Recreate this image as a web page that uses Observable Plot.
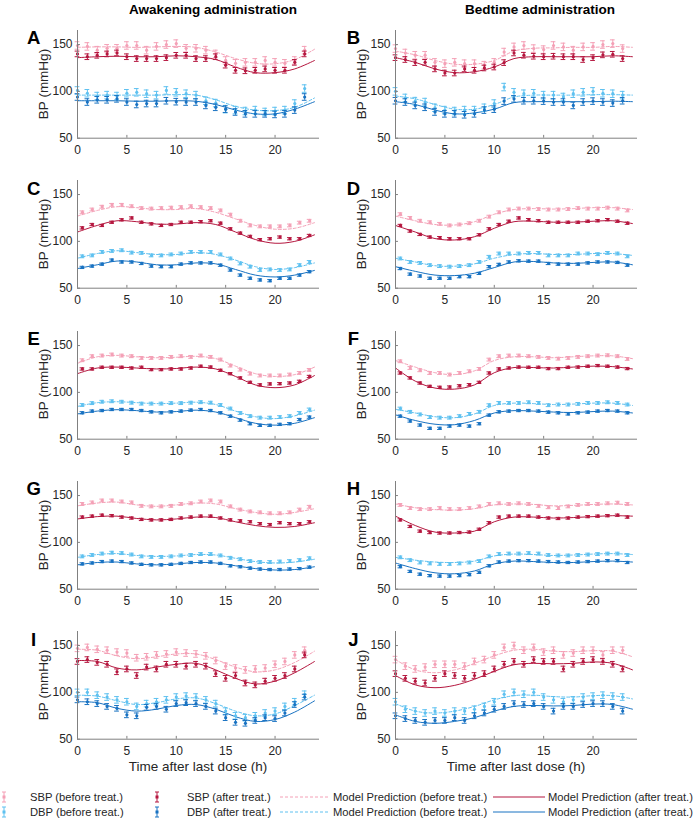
<!DOCTYPE html>
<html><head><meta charset="utf-8">
<script src="https://cdn.jsdelivr.net/npm/d3@7"></script>
<script src="https://cdn.jsdelivr.net/npm/@observablehq/plot@0.6"></script>
<style>
body{margin:0;background:#fff;font-family:"Liberation Sans",Arial,sans-serif;}
#root{position:relative;width:696px;height:818px;overflow:hidden;background:#fff;}
.abs{position:absolute;white-space:nowrap;color:#262626;line-height:1;}
svg{overflow:visible}
</style></head><body><div id="root"></div>
<script>
// ---------- data ----------
const panelLetters = ["A","B","C","D","E","F","G","H","I","J"];
const columnTitles = ["Awakening administration", "Bedtime administration"];
const xTicks = [0, 5, 10, 15, 20];
const yTicks = [50, 100, 150];
const hoursInt  = [0,1,2,3,4,5,6,7,8,9,10,11,12,13,14,15,16,17,18,19,20,21,22,23];
const hoursHalf = [0.5,1.5,2.5,3.5,4.5,5.5,6.5,7.5,8.5,9.5,10.5,11.5,12.5,13.5,14.5,15.5,16.5,17.5,18.5,19.5,20.5,21.5,22.5,23.5];
const modelTimes = [0,2,4,6,8,10,12,14,16,18,20,22,24];
const panelUsesIntHours = [true,true,false,false,false,false,false,false,true,true];

const sbpBefore = [
 [149,148,144,146,146,149,149,144,148,150,151,146,146,144,140,133,130,131,131,133,131,130,133,144],
 [145.7,141,138.6,138.6,131,129.6,131,129.6,129.6,128,131,142,147.5,149,145.7,144.6,149,147.5,144,147.5,148,150,151,145.7],
 [131,134,137,139,139,137.5,135.5,135,135.5,136,136.5,137.5,136.5,135.5,133,128.5,122,117,116,116,116,117,120,122],
 [129,125,122,120.4,118.7,117,118,119.4,122,126.4,131,134,135,135,134.5,134,134,134.5,135.5,135,135,136,135,133],
 [134.3,138.6,139.3,140.4,139.3,138.6,136.8,136.8,136.8,137.9,138.6,137.9,139.3,137.9,135,128.6,124.3,120,118,118,118,119,120.7,124],
 [133.2,126,123.6,120.7,120.7,119,120.7,122.5,125,135,138.6,139.3,139.3,138.6,137.9,136.8,136,136.8,137.9,138.6,139.3,139.6,138.6,135.7],
 [141,142.6,144.7,144.7,143.6,142.6,139,138.4,138.4,139,141,141.7,143.6,144.7,143.6,138.4,135,133,132,131,131,132,135,138],
 [140,136.6,135.5,135.5,136.6,135.5,135.5,136.6,138.4,141,141.7,141,141.7,141,139,137.5,136.6,138.4,140,141,141,141.7,142.4,141],
 [147,148,146,145,143,142,137,138,140,141,143,142,141,139,134,128,126,124,125,126,130,133,140,145],
 [135,128,125,127,130,130,130,128,133,135,140,148,150,145,148,143,145,140,142,145,145,140,145,145]
];
const sbpAfter = [
 [140,137,138.5,140,141,137,135,135,135,136,138.5,138.5,135,135,137,128,122.5,122,122.5,124,122.5,122.5,131,140],
 [136,134,130.7,131,124,119.6,119.6,124,122.5,125,126,130.7,141,138.6,137.5,137,137.5,137,137,134,136,139,139.6,135],
 [114.4,118,117,120.4,123,125,120.4,118.7,117,118,120.4,120.4,121,122,119.4,113.4,108.8,105.3,101.8,102.8,104.6,102.8,102.8,106.3],
 [117,111,107.4,104.6,104,102.8,102.8,102.8,107,113.4,118,121.5,125,123.2,122,120.4,120.4,120.4,120.4,121.5,122,123.2,121.5,119.4],
 [125,125,126.8,126.8,126.8,126,126.8,124.3,124.3,125,125,126,127.9,127,123.6,120,115.4,110.7,108,109,109.3,110,111.8,117],
 [120.7,115.4,110,106.4,105.4,105.7,107,108.2,110.7,120.7,125,126,127,126.8,126.8,125.4,125.4,126.8,127,127.9,128.6,127.9,127,125.4],
 [127,128,129,128.5,127,126,124.5,124,124,124.5,126,127,128,128,126,124,123,122,120,119,121,120,120,122],
 [124,117,112,110.5,110,110,110.5,111,114,121,127,128,128,128,127,126,125.5,126,127,127.5,128,128.5,129,127],
 [133,135,132,130,122,125,118,127,125,130,130,128,130,128,120,115,118,110,108,112,115,118,125,140],
 [120,115,112,110,115,120,118,115,118,120,125,130,133,130,135,133,133,125,130,133,135,133,130,125]
];
const dbpBefore = [
 [101,98,95,96,95,98,99,97.5,96,101,99,97.5,96,90,87.5,81,80,79,80,78,79,80,87,103],
 [100,93,89.6,88.6,82.5,80,79,80,80,82.5,87,104.6,99,97.5,98,96,96,94,97.5,99,100,98,97.5,96],
 [84,85,88.7,89.8,90.5,88,87.7,85,85,86,87,88.7,88.7,88.7,86,81.7,76.4,73,69.4,70,69.4,70,74.6,78],
 [81.7,78,77,74.6,73.6,73,73.6,74.6,78,83.5,87,87,87,87.7,87.7,85,85,85,87,87,86.3,87.7,87,84],
 [86.5,88.5,90,90.5,90,89,88,88,88,88.5,88.5,89,89.5,89,86.5,82.7,78,74.6,73,73,73.6,74.6,78,81.7],
 [82.7,79.2,76.4,73.6,73,73,74.6,77,79.2,86.3,88.7,88.7,88.7,89.4,88.7,86.3,87,87,87.7,88.7,88.7,89.4,88.7,87],
 [85,86.5,88,89,88.5,87,85,84.5,84.5,85,86,86.5,87.5,87.5,86,83.5,82,80,79,79,79.5,80,81,83],
 [84,81,78.5,77.5,77,77,77.5,78.5,80,85,87.5,88,88,88.5,88,86.5,86,86,86.5,87,87.5,88,88,86.5],
 [100,100,97,95,92,90,85,88,90,92,95,96,95,92,88,80,75,73,75,78,80,85,90,98],
 [90,82,80,78,80,78,80,80,82,85,90,98,100,98,100,95,92,90,92,95,96,97,96,95]
];
const dbpAfter = [
 [94,88.6,91,91,92,88.6,86,87,87,90,89,88.6,88.6,85,83,81,78,76,76,76,75.4,76,80,94],
 [90,88.6,85,83,78,76,76,75,76,80,81,89.6,92,90,90,89.6,88.6,88.6,85,88.6,89.6,88.6,87.5,90],
 [72.2,73.6,75.7,80,78,78,76.4,73.6,73,73,75.7,77,77,77,74.6,69.4,64,60.6,58.8,58,60.6,60.6,64,67.6],
 [71,65,63,60.6,60.6,60.6,62.3,62.3,65.8,73,75.4,78,79.2,78.9,78.9,76.4,75.7,75.7,75.7,77,78,78,77.5,74.6],
 [78.2,80,80.6,81.7,81.7,81.7,80.6,79.2,78.2,79.2,80,81,81.7,80.6,78.2,74.6,70.4,66.5,64.8,64.8,65.8,66.5,71,73.6],
 [74.6,69.4,65.1,61.6,61.6,64,65.1,64,66.5,75.7,79.2,80,80.6,80.6,80,78.9,78.2,77,78.2,78.9,80,80.6,80,78.2],
 [77,78,79.5,80,79.5,78,76.5,76,76,76.5,77.5,78.5,79,79,77.5,75,74,72.5,71.5,71,71,71.5,72,73.5],
 [74,69,66,64.5,64,64,64.5,65.5,68,75,79,80,80.5,80.5,80,79.5,79,78.5,79,79.5,80,80.5,80.5,78.5],
 [92,90,88,85,83,76,75,84,85,82,88,89,88,85,80,73,68,67,70,73,72,78,87,95],
 [75,72,70,68,70,70,73,70,75,78,82,85,88,87,88,85,80,85,85,87,88,88,85,80]
];
// error bar half-widths (per panel)
const errSbpBefore = [4,4,1.5,1.5,1.5,1.5,1.5,1.5,3.5,3.5];
const errSbpAfter  = [3,3,1.2,1.2,1.2,1.2,1.2,1.2,3,3];
const errDbpBefore = [4,4,1.5,1.5,1.5,1.5,1.5,1.5,3.5,3.5];
const errDbpAfter  = [3.5,3.5,1.2,1.2,1.2,1.2,1.2,1.2,3,3];

// model predictions at modelTimes
const modelSbpBefore = [
 [147,147.5,147.5,147,147.5,148,147,142,135,130,129.5,134,145],
 [143,139,133,129,129,133,143,146,146.5,147,147,148,147],
 [127,133,137,136,134,134,135,131,124,117,113,114,120],
 [127,122,118,117.5,121,129,134,135,134.5,135,136,136,134],
 [131,138,139.5,138,137,137.5,138.5,136,128,120,117,119,127],
 [134,127,121,119,123,134,138,138,137,138,139,139,136],
 [139,142,143,140,138.5,140,142,141,136,132,130,132,136],
 [141,137,135,134.5,136,140,141,140.5,139,139.5,140.5,141,140],
 [146,145,139,136,138,141,141,135,127,122,124,132,144],
 [135,124,121,124,131,139,145,146,144,143.5,144.5,144,138]
];
const modelSbpAfter = [
 [136,137,137.5,137,137,138,137,134,126,120,120,124,133],
 [136,131,124,120,121,126,135,137,137,137,137,138,137],
 [110,117,122,121,118.5,118.5,120,118,110,102,98,100,107],
 [117,110,103,101.5,105,114,121,121.5,120.5,120.5,121.5,122,119],
 [120,126,127,126,125,125.5,127,125,117,108,105,108,118],
 [126,112,104.6,103.5,108,121,126.5,126.5,126,127,128,127.5,125],
 [125,127.5,128,125.5,124,125,127,126.5,122,118,116,117,121],
 [128,118,111,110,112,122,127,127,126,126.5,127.5,128.5,128],
 [134,133,126,124,127,130,131,124,115,109,112,121,133],
 [118,108,105,107.5,114,122.5,129.5,131,130.5,131,132.5,131,124]
];
const modelDbpBefore = [
 [96,96,96,96,96,96.5,96,91,84,80,79.5,83,93],
 [95,92,86,81,81,86,94,96,96,96,96.5,96.5,96],
 [82,87,90,88,86,86,88,86,80,73,70,72,77],
 [82,78,74,73.5,76,82,86,87,86,86,87,87,85],
 [85,89,90,89,88,88.5,89.5,87,80,74,72,75,81],
 [82,78,74,73,77,86,88.5,88,87,87.5,88.5,88.5,86],
 [84,87,88,86,85,85.5,87,86.5,83,79.5,78,79,82],
 [84,81,79,78.5,80,85.5,87.5,87,86,86.5,87.5,88,87],
 [97,96,91,87,89,93,94,88,80,75,77,86,97],
 [88,80,78,80,85,92,96.5,97,95.5,95,96.5,96.5,93]
];
const modelDbpAfter = [
 [90,90,90,89.5,89.5,90,89.5,86,80,76,76,81,89],
 [89,86,80,76,77,81,88,89,89,89,89,89.5,89],
 [71,75,79,78,75,75,77,76,70,64,62,64,69],
 [73,68,64,63.5,66,72,78,78.5,77,76.5,77.5,78,75],
 [77,80,81.5,80.5,79,79.5,81,79,73,67,65,67,73],
 [76,70,66,65.5,70,78,80.5,80,79,78.5,79.5,80,78],
 [76,78.5,79,77,76,77,78.5,78,75,72,70.5,71,74],
 [78,72,67.5,66.5,69.5,77,80,79.5,78.5,78.5,79.5,80,79],
 [90,89,83,80,82,86,87,82,74,69,71,79,91],
 [76,69,67,69,73,80,85,86,85.5,86,87.5,87,82]
];

const legendRow1 = ["SBP (before treat.)", "SBP (after treat.)", "Model Prediction (before treat.)", "Model Prediction (after treat.)"];
const legendRow2 = ["DBP (before treat.)", "DBP (after treat.)", "Model Prediction (before treat.)", "Model Prediction (after treat.)"];
const xAxisTitle = "Time after last dose (h)";
const yAxisTitle = "BP (mmHg)";

// ---------- style ----------
const C = {sbpB:"#f4a0b6", sbpA:"#b5173f", dbpB:"#5ec1f0", dbpA:"#1872c2", axis:"#808080", text:"#262626"};
const FONT = '"Liberation Sans", Arial, sans-serif';
const root = document.getElementById("root");

function addText(txt, x, y, opts){
  const d = document.createElement("div");
  d.className = "abs";
  d.textContent = txt;
  d.style.left = x + "px"; d.style.top = y + "px";
  d.style.transform = "translate(-50%,-50%)";
  Object.assign(d.style, opts||{});
  root.append(d);
  return d;
}

function pointMarks(times, vals, err, color){
  const data = times.map((t,k)=>({t, v: vals[k]}));
  const cap = 0.24;
  return [
    Plot.ruleX(data, {x:"t", y1:d=>d.v-err, y2:d=>d.v+err, stroke:color, strokeWidth:1}),
    Plot.ruleY(data, {y:d=>d.v+err, x1:d=>d.t-cap, x2:d=>d.t+cap, stroke:color, strokeWidth:1}),
    Plot.ruleY(data, {y:d=>d.v-err, x1:d=>d.t-cap, x2:d=>d.t+cap, stroke:color, strokeWidth:1}),
    Plot.dot(data, {x:"t", y:"v", r:1.6, fill:color, stroke:"none"})
  ];
}
function modelMark(vals, color, dashed){
  const data = modelTimes.map((t,k)=>({t, v: vals[k]}));
  return Plot.line(data, {x:"t", y:"v", stroke:color, strokeWidth:1, curve:"catmull-rom",
    strokeDasharray: dashed ? "3,2" : null});
}

const cols = [{left:0, ml:77, letterX:33.7}, {left:340, ml:55, letterX:353.5}];
const PW = 242, PH = 107.7, MT = 30, MB = 20.3;
const rowPitch = 150.3;

panelLetters.forEach((letter, i) => {
  const c = i % 2, r = Math.floor(i / 2);
  const times = panelUsesIntHours[i] ? hoursInt : hoursHalf;
  const top = r * rowPitch;
  const plot = Plot.plot({
    width: cols[c].ml + PW + 12,
    height: MT + PH + MB,
    marginLeft: cols[c].ml, marginRight: 12, marginTop: MT, marginBottom: MB,
    x: {domain:[0, 24.5]},
    y: {domain:[50, 165]},
    style: {background:"transparent", fontFamily: FONT, fontSize:"12px", color: C.text, overflow:"visible"},
    marks: [
      modelMark(modelSbpBefore[i], C.sbpB, true),
      modelMark(modelDbpBefore[i], C.dbpB, true),
      modelMark(modelSbpAfter[i], C.sbpA, false),
      modelMark(modelDbpAfter[i], C.dbpA, false),
      ...pointMarks(times, sbpBefore[i], errSbpBefore[i], C.sbpB),
      ...pointMarks(times, dbpBefore[i], errDbpBefore[i], C.dbpB),
      ...pointMarks(times, sbpAfter[i], errSbpAfter[i], C.sbpA),
      ...pointMarks(times, dbpAfter[i], errDbpAfter[i], C.dbpA),
      Plot.ruleY([50], {stroke: C.axis, strokeWidth:1}),
      Plot.ruleX([0], {stroke: C.axis, strokeWidth:1}),
      Plot.ruleX(xTicks, {y1:50, y2:53, stroke: C.axis}),
      Plot.ruleY(yTicks, {x1:0, x2:0.3, stroke: C.axis}),
      Plot.axisX({ticks: xTicks, tickSize:0, tickPadding:7, label:null, tickFormat: d=>String(d)}),
      Plot.axisY({ticks: yTicks, tickSize:0, tickPadding:5, label:null, tickFormat: d=>String(d)})
    ]
  });
  plot.style.position = "absolute";
  plot.style.left = cols[c].left + "px";
  plot.style.top = top + "px";
  root.append(plot);
  // y-axis title and panel letter
  const axisX = cols[c].left + cols[c].ml;
  addText(yAxisTitle, axisX - 33.5, top + MT + PH / 2,
    {fontSize:"13.5px", transform:"translate(-50%,-50%) rotate(-90deg)"});
  addText(letter, cols[c].letterX, top + 38.3, {fontSize:"18.5px", fontWeight:"bold", color:"#000"});
});

addText(columnTitles[0], 213, 10, {fontWeight:"bold", fontSize:"13.5px", color:"#000"});
addText(columnTitles[1], 540, 10, {fontWeight:"bold", fontSize:"13.5px", color:"#000"});
addText(xAxisTitle, 77 + PW / 2, 767, {fontSize:"13.5px"});
addText(xAxisTitle, 395 + PW / 2, 767, {fontSize:"13.5px"});

// legend
const ns = "http://www.w3.org/2000/svg";
const lg = document.createElementNS(ns, "svg");
lg.setAttribute("width", 696); lg.setAttribute("height", 40);
lg.style.position = "absolute"; lg.style.left = "0px"; lg.style.top = "785px";
function el(tag, attrs){ const e = document.createElementNS(ns, tag); for (const k in attrs) e.setAttribute(k, attrs[k]); lg.append(e); return e; }
function ebIcon(x, y, color){
  el("line", {x1:x, x2:x, y1:y-5, y2:y+5, stroke:color, "stroke-width":1});
  el("line", {x1:x-2, x2:x+2, y1:y-5, y2:y-5, stroke:color, "stroke-width":1});
  el("line", {x1:x-2, x2:x+2, y1:y+5, y2:y+5, stroke:color, "stroke-width":1});
  el("rect", {x:x-1.5, y:y-1.5, width:3, height:3, fill:color});
}
function lgText(txt, x, y){
  const t = el("text", {x, y, "dominant-baseline":"central", "font-size":"11.2px", "font-family":FONT, fill:C.text});
  t.textContent = txt;
}
const rowsY = [12, 27];
const rowColors = [[C.sbpB, C.sbpA], [C.dbpB, C.dbpA]];
[legendRow1, legendRow2].forEach((labels, k) => {
  const y = rowsY[k];
  const [cb, ca] = rowColors[k];
  ebIcon(4, y, cb); lgText(labels[0], 30, y);
  ebIcon(157, y, ca); lgText(labels[1], 187, y);
  el("line", {x1:280, x2:328, y1:y, y2:y, stroke:cb, "stroke-width":1, "stroke-dasharray":"3,2"}); lgText(labels[2], 333, y);
  el("line", {x1:493, x2:545, y1:y, y2:y, stroke:ca, "stroke-width":1}); lgText(labels[3], 548, y);
});
root.append(lg);
</script>
</body></html>
